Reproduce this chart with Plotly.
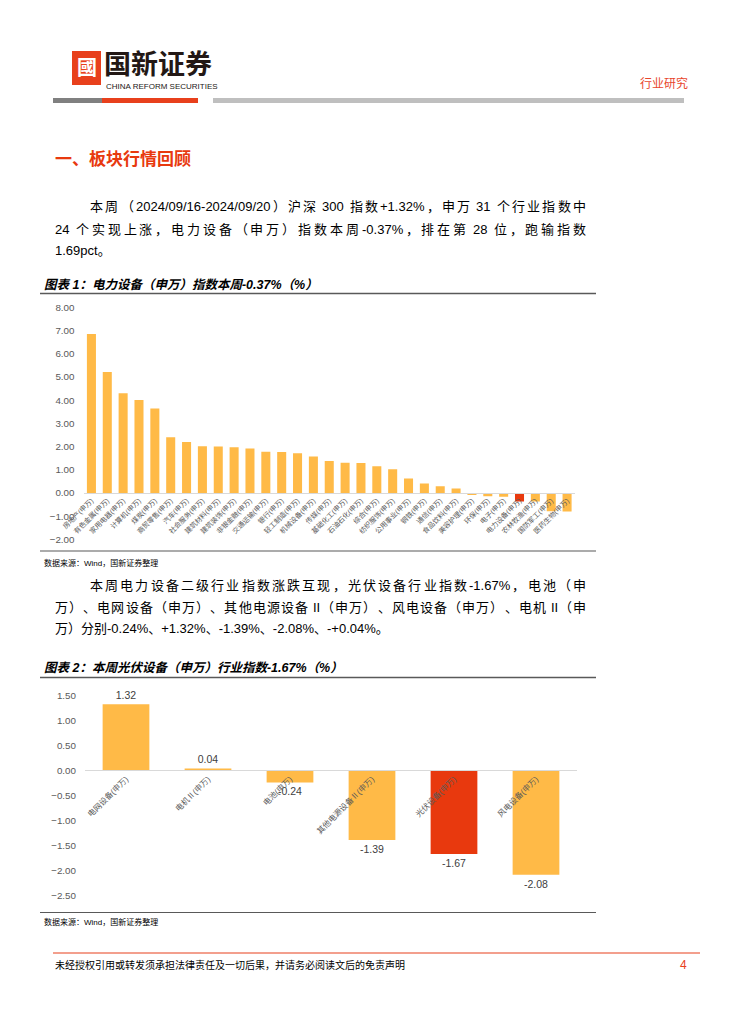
import plotly.graph_objects as go

PAGE_W, PAGE_H = 742, 1024
OFF = 8                      # body margin of the html page
W, H = PAGE_W - OFF, PAGE_H - OFF

# ---------------- data ----------------
industries = ["房地产(申万)", "有色金属(申万)", "家用电器(申万)", "计算机(申万)", "煤炭(申万)",
              "商贸零售(申万)", "汽车(申万)", "社会服务(申万)", "建筑材料(申万)", "建筑装饰(申万)",
              "非银金融(申万)", "交通运输(申万)", "银行(申万)", "轻工制造(申万)", "机械设备(申万)",
              "传媒(申万)", "基础化工(申万)", "石油石化(申万)", "综合(申万)", "纺织服饰(申万)",
              "公用事业(申万)", "钢铁(申万)", "通信(申万)", "食品饮料(申万)", "美容护理(申万)",
              "环保(申万)", "电子(申万)", "电力设备(申万)", "农林牧渔(申万)", "国防军工(申万)",
              "医药生物(申万)"]
industry_values = [6.85, 5.21, 4.29, 4.00, 3.64, 2.40, 2.19, 2.01, 2.00, 1.97,
                   1.91, 1.77, 1.76, 1.71, 1.57, 1.37, 1.30, 1.29, 1.15, 1.02,
                   0.62, 0.40, 0.29, 0.19, -0.09, -0.14, -0.17, -0.37, -0.37, -0.79,
                   -0.80]
highlight_industry = "电力设备(申万)"

sub_industries = ["电网设备(申万)", "电机Ⅱ(申万)", "电池(申万)", "其他电源设备Ⅱ(申万)",
                  "光伏设备(申万)", "风电设备(申万)"]
sub_values = [1.32, 0.04, -0.24, -1.39, -1.67, -2.08]
highlight_sub = "光伏设备(申万)"

y1_ticks = [-2, -1, 0, 1, 2, 3, 4, 5, 6, 7, 8]
y2_ticks = [-2.5, -2.0, -1.5, -1.0, -0.5, 0.0, 0.5, 1.0, 1.5]

# ---------------- styles ----------------
YELLOW = "#FFBA47"
RED = "#E8390E"
GRAY_TXT = "#595959"
CJK = "Liberation Sans, Noto Sans CJK SC"


def X(px):
    return (px - OFF) / W


def Y(py):
    return 1 - (py - OFF) / H


fig = go.Figure()

fig.add_trace(go.Bar(
    x=industries, y=industry_values,
    marker=dict(color=[RED if c == highlight_industry else YELLOW for c in industries],
                line=dict(width=0)),
    xaxis="x", yaxis="y", hoverinfo="x+y"))

fig.add_trace(go.Bar(
    x=sub_industries, y=sub_values,
    marker=dict(color=[RED if c == highlight_sub else YELLOW for c in sub_industries],
                line=dict(width=0)),
    text=[f"{v:.2f}" for v in sub_values], textposition="outside",
    textfont=dict(family=CJK, size=10.5, color="#404040"),
    cliponaxis=False,
    xaxis="x2", yaxis="y2", hoverinfo="x+y"))

# chart 1 geometry (page pixels)
c1_left, c1_right, c1_top, c1_bot = 83.5, 575, 307.3, 539.3
c1_zero = c1_bot - (c1_bot - c1_top) * (0 - (-2)) / 10
# chart 2 geometry
c2_left, c2_right, c2_top, c2_bot = 85, 577, 695.3, 895.7
c2_zero = c2_bot - (c2_bot - c2_top) * (0 - (-2.5)) / 4

axis_common = dict(showgrid=False, zeroline=False, ticks="", fixedrange=True,
                   automargin=False)

fig.update_layout(
    width=W, height=H,
    margin=dict(l=0, r=0, t=0, b=0, autoexpand=False),
    paper_bgcolor="white", plot_bgcolor="rgba(0,0,0,0)",
    showlegend=False, bargap=0.43,
    font=dict(family=CJK, color=GRAY_TXT),
    xaxis=dict(domain=[X(c1_left), X(c1_right)], anchor="free", position=Y(c1_zero),
               showline=True, linecolor="#D9D9D9", linewidth=1,
               tickangle=-45, tickfont=dict(size=7, color=GRAY_TXT, family=CJK),
               categoryorder="array", categoryarray=industries, **axis_common),
    yaxis=dict(domain=[Y(c1_bot), Y(c1_top)], range=[-2, 8], tickvals=y1_ticks,
               tickformat=".2f", showline=False, ticklabelstandoff=8,
               tickfont=dict(size=9.8, color=GRAY_TXT, family="Liberation Sans"),
               anchor="x", **axis_common),
    xaxis2=dict(domain=[X(c2_left), X(c2_right)], anchor="free", position=Y(c2_zero),
                showline=True, linecolor="#D9D9D9", linewidth=1,
                tickangle=-45, tickfont=dict(size=8, color=GRAY_TXT, family=CJK),
                categoryorder="array", categoryarray=sub_industries, **axis_common),
    yaxis2=dict(domain=[Y(c2_bot), Y(c2_top)], range=[-2.5, 1.5], tickvals=y2_ticks,
                tickformat=".2f", showline=False, ticklabelstandoff=8,
                tickfont=dict(size=9.8, color=GRAY_TXT, family="Liberation Sans"),
                anchor="x2", **axis_common),
)

shapes = []


def hline(x0, x1, y, color, width):
    shapes.append(dict(type="line", xref="paper", yref="paper",
                       x0=X(x0), x1=X(x1), y0=Y(y), y1=Y(y),
                       line=dict(color=color, width=width)))


def rect(x0, y0, x1, y1, color):
    shapes.append(dict(type="rect", xref="paper", yref="paper",
                       x0=X(x0), x1=X(x1), y0=Y(y1), y1=Y(y0),
                       fillcolor=color, line=dict(width=0)))


# header logo and bars
rect(72, 51, 101, 85, "#E8401C")
rect(53, 98, 102, 103, "#808080")
rect(102, 98, 198, 103, "#E8401C")
rect(213, 98, 684, 103, "#BFBFBF")

# chart frames
hline(40, 596, 293.5, "#595959", 1.5)
hline(40, 596, 551, "#595959", 1.2)
hline(40, 596, 677.5, "#595959", 1.5)
hline(40, 596, 912.5, "#595959", 1.2)
# footer line
hline(53, 700, 953, "#E8401C", 1.2)

fig.update_layout(shapes=shapes)

anns = []


def text(x, y, s, size, color="#000000", anchor="left", bold=False, italic=False,
         family=CJK):
    if bold:
        s = f"<b>{s}</b>"
    if italic:
        s = f"<i>{s}</i>"
    anns.append(dict(x=X(x), y=Y(y), xref="paper", yref="paper", text=s,
                     showarrow=False, xanchor=anchor, yanchor="middle",
                     font=dict(size=size, color=color, family=family)))


# approximate Liberation Sans advance widths (em)
ASCII_W = {c: 0.556 for c in "0123456789"}
ASCII_W.update({"/": 0.278, "-": 0.333, ".": 0.278, "%": 0.889, "+": 0.584,
                " ": 0.278, "p": 0.556, "c": 0.5, "t": 0.278, "I": 0.278})


def justify(x0, x1, y, s, size, color="#000000"):
    """Place a line as separate tokens, spreading them evenly from x0 to x1."""
    toks = []
    run = ""
    for ch in s:
        if ch == " ":
            if run:
                toks.append(run)
                run = ""
            continue
        if ord(ch) < 128:
            run += ch
            continue
        if run:
            toks.append(run)
            run = ""
        toks.append(ch)
    if run:
        toks.append(run)

    def width(t):
        if ord(t[0]) < 128:
            return sum(ASCII_W.get(c, 0.55) for c in t) * size
        return size

    items, pos = [], 0
    for t in toks:
        k = s.find(t, pos)
        sp = s[pos:k].count(" ") * ASCII_W[" "] * size
        pos = k + len(t)
        items.append((t, width(t), sp))
    natural = sum(w + sp for _, w, sp in items)
    extra = (x1 - x0 - natural) / max(len(items) - 1, 1)
    cx = x0
    for tt, w, sp in items:
        cx += sp
        text(cx, y, tt, size, color)
        cx += w + extra


# logo
text(86.5, 68, "國", 20, "#FFFFFF", anchor="center", bold=True)
text(102, 62, "国新证券", 27, "#231815", bold=True, family="Noto Sans CJK SC")
text(104, 87, "CHINA REFORM SECURITIES", 8, "#231815", family="Liberation Sans")
text(690, 84, "行业研究", 12, "#E8452C", anchor="right")

# section title
text(53, 158, "一、板块行情回顾", 17, "#E8390E", bold=True, family="Noto Sans CJK SC")

# paragraph 1
justify(88, 584, 207, "本周（2024/09/16-2024/09/20）沪深 300 指数+1.32%，申万 31 个行业指数中", 13)
justify(53, 584, 229, "24 个实现上涨，电力设备（申万）指数本周-0.37%，排在第 28 位，跑输指数", 13)
text(53, 250, "1.69pct。", 13, "#000000")

# chart titles and sources
text(42, 285, "图表 1：电力设备（申万）指数本周-0.37%（%）", 12.5, "#000000", bold=True, italic=True)
text(42, 563, "数据来源：Wind，国新证券整理", 8, "#000000")

# paragraph 2
justify(88, 584, 585, "本周电力设备二级行业指数涨跌互现，光伏设备行业指数-1.67%，电池（申", 13)
justify(53, 584, 607, "万）、电网设备（申万）、其他电源设备 II（申万）、风电设备（申万）、电机 II（申", 13)
text(53, 628, "万）分别-0.24%、+1.32%、-1.39%、-2.08%、-+0.04%。", 13, "#000000")

text(42, 668, "图表 2：本周光伏设备（申万）行业指数-1.67%（%）", 12.5, "#000000", bold=True, italic=True)
text(42, 922, "数据来源：Wind，国新证券整理", 8, "#000000")

# footer
text(53, 965, "未经授权引用或转发须承担法律责任及一切后果，并请务必阅读文后的免责声明", 10, "#000000")
text(689, 965, "4", 12, "#E8401C", anchor="right", family="Liberation Sans")

fig.update_layout(annotations=anns)

fig.write_html("out.html")
